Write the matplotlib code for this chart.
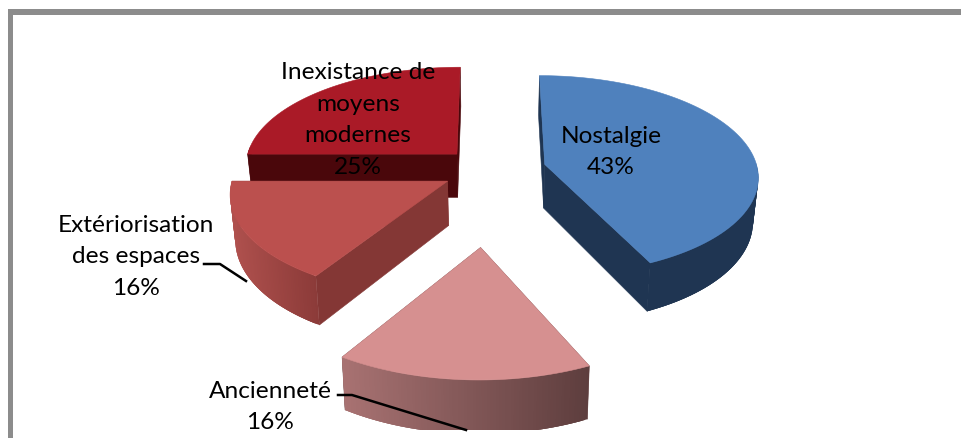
import numpy as np
import matplotlib
matplotlib.use('Agg')
import matplotlib.pyplot as plt
from matplotlib.colors import to_rgb
from matplotlib.patches import Polygon, Rectangle

# data
categorias = ['Nostalgie', 'Ancienneté', 'Extériorisation\ndes espaces', 'Inexistance de\nmoyens\nmodernes']
valores = [43, 16, 16, 25]

# style of each slice, same order as the data
explode = [0.26, 0.72, 0.23, 0.23]
col_top = ['#4f81bd', '#d69090', '#bb504e', '#aa1a27']
col_radial = ['#1f3552', '#6a4646', '#843735', '#4a070b']
col_rim_a = ['#1f3552', '#a87272', '#b0514e', '#4a070b']
col_rim_b = ['#1f3552', '#5e3e3e', '#8c3b39', '#4a070b']
orden = [3, 0, 2, 1]  # back to front

# pie centre and perspective, in pixels
CX, CY = 491, 171
A, B, K = 213, 99.5, 0.108
PROF = 44
S_BAJO = 0.98


def proyectar(x, v, abajo=False):
    w = 1 - K * v
    sx = CX + A * x / w
    sy = CY + B * v / w
    if abajo:
        sx = CX + (sx - CX) * S_BAJO
        sy = sy + PROF / w
    return np.column_stack([sx, sy])


fig = plt.figure(figsize=(9.61, 4.39), dpi=100)
ax = fig.add_axes([0, 0, 1, 1])
ax.set_xlim(0, 961)
ax.set_ylim(439, 0)
ax.axis('off')

clip = Rectangle((13, 16), 948, 415, transform=ax.transData)


def poner(puntos, color, z, borde=0.4):
    p = Polygon(puntos, closed=True, facecolor=color, edgecolor=color, linewidth=borde, zorder=z)
    ax.add_patch(p)
    p.set_clip_path(clip)


fracs = np.array(valores) / sum(valores) * 2 * np.pi
inicios = np.concatenate([[0], np.cumsum(fracs)[:-1]])

for i in orden:
    t0, t1 = inicios[i], inicios[i] + fracs[i]
    medio = (t0 + t1) / 2
    x0, v0 = explode[i] * np.sin(medio), -explode[i] * np.cos(medio)
    th = np.linspace(t0, t1, 90)
    xs, vs = x0 + np.sin(th), v0 - np.cos(th)
    z = orden.index(i) * 3 + 1

    # two flat sides of the slice
    for k in [0, -1]:
        top = proyectar(np.array([x0, xs[k]]), np.array([v0, vs[k]]))
        bot = proyectar(np.array([x0, xs[k]]), np.array([v0, vs[k]]), abajo=True)
        poner(np.vstack([top, bot[::-1]]), col_radial[i], z)

    # outer rim, only the part facing us, shaded from left to right
    sup = proyectar(xs, vs)
    inf = proyectar(xs, vs, abajo=True)
    ca, cb = np.array(to_rgb(col_rim_a[i])), np.array(to_rgb(col_rim_b[i]))
    visibles = [k for k in range(len(th) - 1) if -np.cos(th[k]) > -0.05]
    if visibles:
        xmin, xmax = sup[visibles, 0].min(), sup[visibles, 0].max()
        for k in visibles:
            f = (sup[k, 0] - xmin) / max(xmax - xmin, 1)
            # each piece runs under the next one, so no seams show
            fin = min(k + 3, len(th) - 1)
            poner([sup[k], sup[fin], inf[fin], inf[k]], tuple(ca + (cb - ca) * f), z + 1, borde=0)

    # top face
    poner(np.vstack([proyectar(np.array([x0]), np.array([v0])), sup]), col_top[i], z + 2)

# frame
gris = '#8c8c8c'
ax.add_patch(Rectangle((8, 10), 953, 6, facecolor=gris, edgecolor='none', zorder=30))
ax.add_patch(Rectangle((8, 10), 5, 429, facecolor=gris, edgecolor='none', zorder=30))

# leader lines
ax.plot([204, 220, 246], [265, 265, 282], color='black', lw=1.8, zorder=20)
ax.plot([338, 352, 466], [396, 396, 431], color='black', lw=1.8, zorder=20)

# labels
pos_etiquetas = [(611, 152), (270, 407), (136, 257), (358, 120)]
for nombre, val, (px, py) in zip(categorias, valores, pos_etiquetas):
    ax.text(px, py, f'{nombre}\n{val}%', ha='center', va='center', family='Lato',
            fontsize=17.6, color='black', linespacing=1.62, zorder=25)

fig.savefig('out.png', dpi=100)
